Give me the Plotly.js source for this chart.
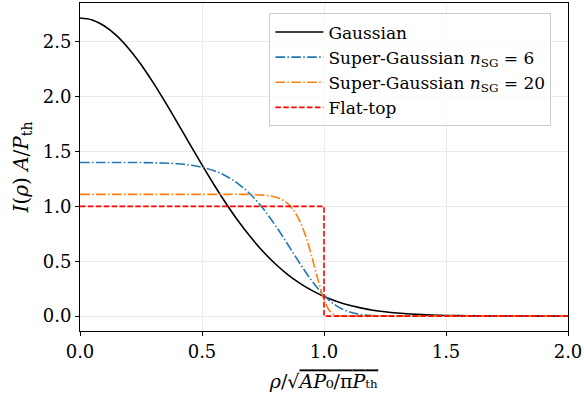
<!DOCTYPE html>
<html>
<head>
<meta charset="utf-8">
<script src="https://cdn.plot.ly/plotly-3.0.1.min.js"></script>
<style>html,body{margin:0;padding:0;background:#fff;}#chart{width:584px;height:398px;}</style>
</head>
<body>
<div id="chart"></div>
<script>
// Gaussian
const gaussX = [0,0.05,0.1,0.15,0.2,0.25,0.3,0.35,0.4,0.45,0.5,0.55,0.6,0.65,0.7,0.75,0.8,0.85,0.9,0.95,1.0,1.05,1.1,1.15,1.2,1.25,1.3,1.4,1.5,1.6,1.7,1.8,1.9,2.0];
const gaussY = [2.718,2.700,2.645,2.557,2.438,2.294,2.128,1.948,1.760,1.568,1.378,1.195,1.022,0.862,0.718,0.589,0.477,0.381,0.301,0.234,0.179,0.136,0.101,0.075,0.054,0.039,0.028,0.013,0.006,0.003,0.001,0.0004,0.0001,0.0];
// Super-Gaussian n_SG = 6
const sg6X = [0,0.1,0.2,0.3,0.4,0.45,0.5,0.55,0.6,0.65,0.7,0.75,0.8,0.85,0.9,0.95,1.0,1.05,1.1,1.15,1.2,1.25,1.3,1.4,1.6,1.8,2.0];
const sg6Y = [1.400,1.400,1.400,1.398,1.389,1.377,1.357,1.325,1.275,1.204,1.107,0.981,0.829,0.659,0.484,0.322,0.189,0.096,0.041,0.014,0.004,0.001,0.0001,0,0,0,0];
// Super-Gaussian n_SG = 20
const sg20X = [0,0.2,0.4,0.6,0.65,0.7,0.75,0.775,0.8,0.825,0.85,0.875,0.9,0.925,0.95,0.975,1.0,1.025,1.05,1.075,1.1,1.2,1.4,1.6,1.8,2.0];
const sg20Y = [1.110,1.110,1.110,1.110,1.110,1.108,1.103,1.097,1.085,1.064,1.027,0.967,0.871,0.729,0.542,0.333,0.150,0.042,0.006,0.0002,0,0,0,0,0,0];
// Flat-top
const flatX = [0,1,1,2];
const flatY = [1,1,0,0];

const FONT = "DejaVu Serif";

const traces = [
  {x: gaussX, y: gaussY, mode: 'lines', name: 'Gaussian',
   line: {color: '#000000', width: 1.6, shape: 'spline', smoothing: 1}},
  {x: sg6X, y: sg6Y, mode: 'lines', name: 'Super-Gaussian <i>n</i><sub>SG</sub> = 6',
   line: {color: '#1f77b4', width: 1.6, dash: '9.6px,2.4px,1.5px,2.4px', shape: 'spline', smoothing: 1}},
  {x: sg20X, y: sg20Y, mode: 'lines', name: 'Super-Gaussian <i>n</i><sub>SG</sub> = 20',
   line: {color: '#ff7f0e', width: 1.6, dash: '9.6px,2.4px,1.5px,2.4px', shape: 'spline', smoothing: 0.8}},
  {x: flatX, y: flatY, mode: 'lines', name: 'Flat-top',
   line: {color: '#ff0000', width: 1.6, dash: '5.5px,2.4px'}}
];

const layout = {
  width: 584, height: 398,
  margin: {l: 80, r: 16, t: 3, b: 67},
  paper_bgcolor: '#ffffff', plot_bgcolor: '#ffffff',
  font: {family: FONT, color: '#000000', size: 17},
  showlegend: true,
  legend: {
    x: 0.966, y: 0.968, xanchor: 'right', yanchor: 'top',
    bgcolor: 'rgba(255,255,255,0.8)', bordercolor: '#cccccc', borderwidth: 1,
    font: {family: FONT, size: 17, color: '#000000'},
    tracegroupgap: 0, itemwidth: 48
  },
  xaxis: {
    range: [0, 2], tickvals: [0, 0.5, 1.0, 1.5, 2.0], ticktext: ['0.0','0.5','1.0','1.5','2.0'],
    showgrid: true, gridcolor: '#ebebeb', gridwidth: 1, zeroline: false,
    showline: true, linecolor: '#000000', linewidth: 1, mirror: true,
    ticks: 'outside', ticklen: 4, tickcolor: '#000000', tickwidth: 1,
    tickfont: {family: FONT, size: 18},
    title: {text: '<i>ρ</i>/√<span style="text-decoration:overline"><i>AP</i>₀/π<i>P</i>ₜₕ</span>', font: {family: FONT, size: 19}, standoff: 14}
  },
  yaxis: {
    range: [-0.1359, 2.8542], tickvals: [0, 0.5, 1.0, 1.5, 2.0, 2.5], ticktext: ['0.0','0.5','1.0','1.5','2.0','2.5'],
    showgrid: true, gridcolor: '#ebebeb', gridwidth: 1, zeroline: false,
    showline: true, linecolor: '#000000', linewidth: 1, mirror: true,
    ticks: 'outside', ticklen: 4, tickcolor: '#000000', tickwidth: 1,
    tickfont: {family: FONT, size: 18},
    title: {text: '<i>I</i>(<i>ρ</i>) <i>A</i>/<i>P</i><sub>th</sub>', font: {family: FONT, size: 20}, standoff: 8}
  }
};

Plotly.newPlot('chart', traces, layout, {displayModeBar: false, staticPlot: true});
</script>
</body>
</html>
